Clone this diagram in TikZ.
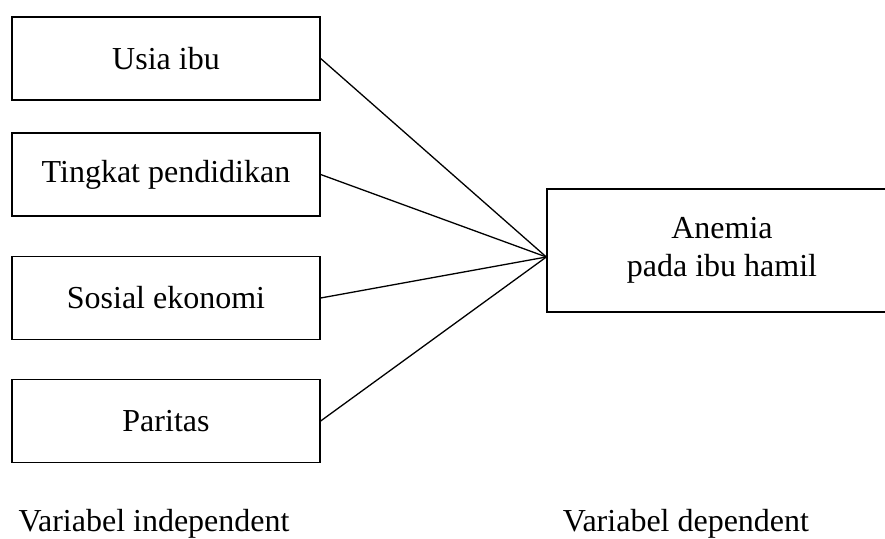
\documentclass[tikz,border=0pt]{standalone}
\usepackage{fontspec}
\setmainfont{Liberation Serif}
\usepackage{tikz}
\tikzstyle{varbox} = [rectangle,draw,line width=0.65pt,text centered,minimum width=154pt,minimum height=41.5pt,font=\fontsize{16}{19}\selectfont]
\tikzstyle{caption} = [anchor=base,font=\fontsize{16}{19}\selectfont]

\begin{document}
\begin{tikzpicture}[x=0.5pt,y=-0.5pt]
		\useasboundingbox (0,0) rectangle (885,539);
		\node [varbox](usia) at (166,58.5){Usia ibu};
		\node [varbox](didik) at (166,174.5){Tingkat pendidikan};
		\node [varbox](sosek) at (166,298){Sosial ekonomi};
		\node [varbox](paritas) at (166,421){Paritas};
		\node [varbox,minimum width=175pt,minimum height=61.5pt,align=center](anemia) at (722,250.5){Anemia\\pada ibu hamil};
		\coordinate (temu) at (anemia.west |- 0,257);
		
		\draw[-,line width=0.65pt](usia.east)--(temu);
		\draw[-,line width=0.65pt](didik.east)--(temu);
		\draw[-,line width=0.65pt](sosek.east)--(temu);
		\draw[-,line width=0.65pt](paritas.east)--(temu);
		
		\node [caption](indep) at (154,532){Variabel independent};
		\node [caption](dep) at (686,532){Variabel dependent};
		\end{tikzpicture}
\end{document}
